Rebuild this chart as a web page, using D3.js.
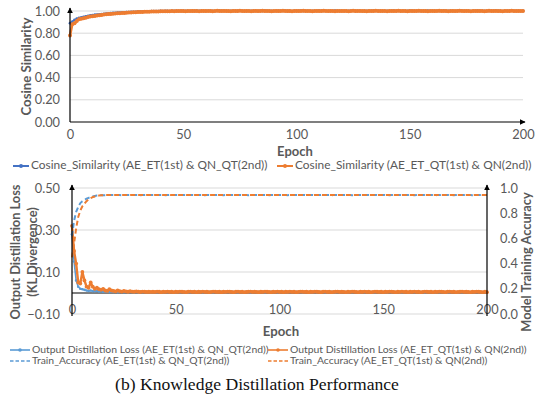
<!DOCTYPE html>
<html><head><meta charset="utf-8">
<script src="https://cdn.jsdelivr.net/npm/d3@7"></script>
<style>
body{margin:0;background:#fff;}
svg{display:block;}
</style></head>
<body>
<svg id="c" width="537" height="415"></svg>
<script>
// ---------- DATA ----------
const epochTicks = [0, 50, 100, 150, 200];
const cosTicks = [0, 0.2, 0.4, 0.6, 0.8, 1.0];
const lossTicks = [-0.1, 0.1, 0.3, 0.5];
const accTicks = [0, 0.2, 0.4, 0.6, 0.8, 1.0];

const cosBlue = [
0.890,0.905,0.920,0.930,0.937,0.942,0.947,0.952,0.956,0.960,
0.963,0.966,0.968,0.970,0.972,0.974,0.976,0.978,0.980,0.982,
0.983,0.985,0.986,0.987,0.988,0.989,0.990,0.991,0.992,0.993,
0.994,0.995,0.995,0.996,0.997,0.997,0.998,0.999,0.998,0.999,
1.000,0.999,1.000,1.001,0.999,1.000,1.002,1.000,0.999,1.001,
1.000,1.002,1.001,0.999,1.000,1.001,1.003,1.000,1.001,0.999,
1.000,1.002,1.001,1.000,0.999,1.001,1.003,1.000,1.002,1.001,
0.999,1.000,1.002,1.001,1.000,1.003,1.001,0.999,1.000,1.002,
1.001,1.000,1.002,0.999,1.001,1.000,1.003,1.001,1.000,1.002,
0.999,1.001,1.000,1.002,1.001,1.003,1.000,1.001,0.999,1.002,
1.000,1.001,1.003,1.000,1.002,1.001,0.999,1.000,1.002,1.001,
1.003,1.000,1.001,1.002,0.999,1.000,1.001,1.003,1.002,1.000,
1.001,0.999,1.002,1.000,1.001,1.003,1.000,1.002,1.001,0.999,
1.000,1.002,1.001,1.000,1.003,1.001,1.000,1.002,0.999,1.001,
1.000,1.002,1.001,1.003,1.000,1.001,0.999,1.002,1.000,1.001,
1.003,1.000,1.002,1.001,0.999,1.000,1.002,1.001,1.003,1.000,
1.001,1.000,1.002,0.999,1.001,1.003,1.000,1.002,1.001,1.000,
0.999,1.002,1.001,1.003,1.000,1.001,1.002,0.999,1.000,1.001,
1.003,1.000,1.002,1.001,0.999,1.000,1.002,1.001,1.003,1.000,
1.001,0.999,1.002,1.000,1.001,1.003,1.000,1.002,1.001,0.999,
1.000];

const cosOrange = [
0.780,0.880,0.890,0.910,0.925,0.930,0.935,0.940,0.945,0.950,
0.953,0.956,0.960,0.962,0.965,0.968,0.970,0.972,0.974,0.976,
0.977,0.979,0.980,0.982,0.983,0.984,0.986,0.987,0.988,0.989,
0.990,0.991,0.992,0.993,0.993,0.994,0.995,0.995,0.996,0.996,
0.997,0.997,0.998,0.997,0.998,0.999,0.998,0.999,1.000,0.999,
1.000,0.998,1.000,0.999,1.001,0.999,1.000,0.998,1.000,1.001,
0.999,1.000,1.001,0.998,1.000,1.002,0.999,1.000,1.001,0.999,
1.000,0.998,1.001,1.000,0.999,1.002,1.000,0.999,1.001,1.000,
0.998,1.000,1.001,0.999,1.000,1.002,0.999,1.001,1.000,0.998,
1.000,1.001,0.999,1.000,1.002,1.000,0.999,1.001,0.998,1.000,
1.001,0.999,1.000,1.002,0.999,1.000,1.001,0.998,1.000,1.001,
0.999,1.000,1.002,1.000,0.999,1.001,1.000,0.998,1.001,1.000,
0.999,1.001,1.000,0.998,1.000,1.002,0.999,1.000,1.001,0.999,
1.000,0.998,1.001,1.000,0.999,1.002,1.000,0.999,1.001,1.000,
0.998,1.000,1.001,0.999,1.000,1.002,0.999,1.001,1.000,0.998,
1.000,1.001,0.999,1.000,1.002,1.000,0.999,1.001,0.998,1.000,
1.001,0.999,1.000,1.002,0.999,1.000,1.001,0.998,1.000,1.001,
0.999,1.000,1.002,1.000,0.999,1.001,1.000,0.998,1.001,1.000,
0.999,1.001,1.000,0.998,1.000,1.002,0.999,1.000,1.001,0.999,
1.000,0.998,1.001,1.000,0.999,1.002,1.000,0.999,1.001,1.000,
1.001];

const lossBlue = [
0.280,0.150,0.060,0.030,0.020,0.018,0.015,0.012,0.010,0.012,
0.009,0.008,0.010,0.007,0.008,0.006,0.007,0.006,0.005,0.006,
0.005,0.006,0.004,0.005,0.006,0.004,0.005,0.004,0.006,0.005,
0.004,0.005,0.003,0.005,0.004,0.006,0.004,0.005,0.003,0.004,
0.005,0.004,0.006,0.004,0.003,0.005,0.004,0.005,0.006,0.004,
0.003,0.005,0.004,0.006,0.004,0.005,0.003,0.004,0.005,0.004,
0.006,0.004,0.005,0.003,0.004,0.005,0.006,0.004,0.003,0.005,
0.004,0.005,0.006,0.004,0.003,0.005,0.004,0.006,0.005,0.004,
0.003,0.005,0.004,0.005,0.006,0.004,0.003,0.004,0.005,0.004,
0.006,0.005,0.004,0.003,0.005,0.004,0.006,0.004,0.005,0.003,
0.004,0.005,0.006,0.004,0.003,0.005,0.004,0.005,0.006,0.004,
0.005,0.003,0.004,0.006,0.005,0.004,0.003,0.005,0.004,0.006,
0.004,0.005,0.003,0.004,0.005,0.006,0.004,0.003,0.005,0.004,
0.005,0.006,0.004,0.003,0.005,0.004,0.006,0.005,0.004,0.003,
0.005,0.004,0.005,0.006,0.004,0.003,0.004,0.005,0.004,0.006,
0.005,0.004,0.003,0.005,0.004,0.006,0.004,0.005,0.003,0.004,
0.005,0.006,0.004,0.003,0.005,0.004,0.005,0.006,0.004,0.005,
0.003,0.004,0.006,0.005,0.004,0.003,0.005,0.004,0.006,0.004,
0.005,0.003,0.004,0.005,0.006,0.004,0.003,0.005,0.004,0.005,
0.006,0.004,0.003,0.005,0.004,0.006,0.005,0.004,0.003,0.005,
0.004];

const lossOrange = [
0.320,0.200,0.140,0.050,0.045,0.100,0.060,0.030,0.025,0.050,
0.030,0.020,0.025,0.018,0.015,0.020,0.012,0.010,0.018,0.012,
0.010,0.008,0.012,0.009,0.007,0.010,0.008,0.006,0.009,0.007,
0.006,0.008,0.006,0.005,0.007,0.006,0.005,0.006,0.005,0.006,
0.005,0.007,0.006,0.004,0.006,0.005,0.007,0.005,0.006,0.004,
0.006,0.005,0.007,0.006,0.005,0.004,0.006,0.007,0.005,0.006,
0.004,0.006,0.005,0.007,0.005,0.006,0.004,0.005,0.007,0.006,
0.005,0.006,0.004,0.006,0.005,0.007,0.006,0.005,0.004,0.006,
0.007,0.005,0.006,0.004,0.005,0.006,0.007,0.005,0.006,0.005,
0.004,0.006,0.005,0.007,0.006,0.005,0.004,0.006,0.005,0.007,
0.005,0.006,0.004,0.006,0.005,0.007,0.005,0.006,0.004,0.005,
0.007,0.006,0.005,0.006,0.004,0.006,0.005,0.007,0.006,0.005,
0.004,0.006,0.007,0.005,0.006,0.004,0.005,0.006,0.007,0.005,
0.006,0.005,0.004,0.006,0.005,0.007,0.006,0.005,0.004,0.006,
0.005,0.007,0.005,0.006,0.004,0.005,0.007,0.006,0.005,0.006,
0.004,0.006,0.005,0.007,0.006,0.005,0.004,0.006,0.005,0.007,
0.005,0.006,0.004,0.006,0.005,0.007,0.005,0.006,0.004,0.005,
0.007,0.006,0.005,0.006,0.004,0.006,0.005,0.007,0.006,0.005,
0.004,0.006,0.007,0.005,0.006,0.004,0.005,0.006,0.007,0.005,
0.006,0.005,0.004,0.006,0.005,0.007,0.006,0.005,0.004,0.006,
0.004];

const accBlue = [
0.620,0.740,0.810,0.850,0.880,0.895,0.905,0.915,0.922,0.928,
0.933,0.937,0.940,0.941,0.942,0.943,0.943,0.944,0.944,0.944,
0.944,0.945,0.944,0.944,0.943,0.944,0.945,0.944,0.944,0.944,
0.945,0.944,0.944,0.943,0.944,0.944,0.945,0.944,0.944,0.944,
0.944,0.945,0.944,0.944,0.944,0.943,0.944,0.945,0.944,0.944,
0.944,0.944,0.945,0.944,0.944,0.943,0.944,0.944,0.945,0.944,
0.944,0.945,0.944,0.944,0.943,0.944,0.945,0.944,0.944,0.944,
0.945,0.944,0.944,0.943,0.944,0.944,0.945,0.944,0.944,0.944,
0.944,0.945,0.944,0.944,0.944,0.943,0.944,0.945,0.944,0.944,
0.944,0.944,0.945,0.944,0.944,0.943,0.944,0.944,0.945,0.944,
0.944,0.945,0.944,0.944,0.943,0.944,0.945,0.944,0.944,0.944,
0.945,0.944,0.944,0.943,0.944,0.944,0.945,0.944,0.944,0.944,
0.944,0.945,0.944,0.944,0.944,0.943,0.944,0.945,0.944,0.944,
0.944,0.944,0.945,0.944,0.944,0.943,0.944,0.944,0.945,0.944,
0.944,0.945,0.944,0.944,0.943,0.944,0.945,0.944,0.944,0.944,
0.945,0.944,0.944,0.943,0.944,0.944,0.945,0.944,0.944,0.944,
0.944,0.945,0.944,0.944,0.944,0.943,0.944,0.945,0.944,0.944,
0.944,0.944,0.945,0.944,0.944,0.943,0.944,0.944,0.945,0.944,
0.944,0.945,0.944,0.944,0.943,0.944,0.945,0.944,0.944,0.944,
0.945,0.944,0.944,0.943,0.944,0.944,0.945,0.944,0.944,0.944,
0.944];

const accOrange = [
0.450,0.560,0.680,0.770,0.820,0.855,0.875,0.895,0.910,0.920,
0.928,0.933,0.937,0.940,0.942,0.943,0.944,0.944,0.944,0.945,
0.944,0.944,0.945,0.944,0.944,0.944,0.945,0.944,0.944,0.945,
0.944,0.944,0.944,0.945,0.944,0.944,0.945,0.944,0.944,0.944,
0.945,0.944,0.944,0.945,0.944,0.944,0.944,0.945,0.944,0.944,
0.945,0.944,0.944,0.944,0.945,0.944,0.944,0.945,0.944,0.944,
0.944,0.945,0.944,0.944,0.945,0.944,0.944,0.944,0.945,0.944,
0.944,0.945,0.944,0.944,0.944,0.945,0.944,0.944,0.945,0.944,
0.944,0.944,0.945,0.944,0.944,0.945,0.944,0.944,0.944,0.945,
0.944,0.944,0.945,0.944,0.944,0.944,0.945,0.944,0.944,0.945,
0.944,0.944,0.944,0.945,0.944,0.944,0.945,0.944,0.944,0.944,
0.945,0.944,0.944,0.945,0.944,0.944,0.944,0.945,0.944,0.944,
0.945,0.944,0.944,0.944,0.945,0.944,0.944,0.945,0.944,0.944,
0.944,0.945,0.944,0.944,0.945,0.944,0.944,0.944,0.945,0.944,
0.944,0.945,0.944,0.944,0.944,0.945,0.944,0.944,0.945,0.944,
0.944,0.944,0.945,0.944,0.944,0.945,0.944,0.944,0.944,0.945,
0.944,0.944,0.945,0.944,0.944,0.944,0.945,0.944,0.944,0.945,
0.944,0.944,0.944,0.945,0.944,0.944,0.945,0.944,0.944,0.944,
0.945,0.944,0.944,0.945,0.944,0.944,0.944,0.945,0.944,0.944,
0.945,0.944,0.944,0.944,0.945,0.944,0.944,0.945,0.944,0.944,
0.944];

const legendTop = ["Cosine_Similarity (AE_ET(1st) & QN_QT(2nd))", "Cosine_Similarity (AE_ET_QT(1st) & QN(2nd))"];
const legendBottom = ["Output Distillation Loss (AE_ET(1st) & QN_QT(2nd))", "Output Distillation Loss (AE_ET_QT(1st) & QN(2nd))",
                      "Train_Accuracy (AE_ET(1st) & QN_QT(2nd))", "Train_Accuracy (AE_ET_QT(1st) & QN(2nd))"];
const caption = "(b) Knowledge Distillation Performance";

// ---------- DRAW ----------
const BLUE = "#4472C4", LBLUE = "#5B9BD5", ORANGE = "#ED7D31", GRID = "#D9D9D9", TXT = "#595959";
const FONT = "Lato, 'Open Sans', sans-serif";
const svg = d3.select("#c").style("font-family", FONT);

const defs = svg.append("defs");
defs.append("marker").attr("id", "arr").attr("viewBox", "0 0 10 10").attr("refX", 9).attr("refY", 5)
  .attr("markerWidth", 6).attr("markerHeight", 6).attr("markerUnits", "userSpaceOnUse").attr("orient", "auto")
  .append("path").attr("d", "M0,0L10,5L0,10Z").attr("fill", "#000");

function styleAxis(g, size) {
  g.select(".domain").remove();
  g.selectAll("text").attr("fill", TXT).style("font-size", size + "px").style("font-family", FONT);
}

// ===== TOP CHART =====
const xT = d3.scaleLinear().domain([0, 200]).range([70, 523]);
const yT = d3.scaleLinear().domain([0, 1]).range([122, 11]);

svg.append("g").selectAll("line").data(cosTicks.filter(d => d > 0)).join("line")
  .attr("x1", xT(0)).attr("x2", xT(200)).attr("y1", d => yT(d)).attr("y2", d => yT(d))
  .attr("stroke", GRID).attr("stroke-width", 1);

svg.append("g").attr("transform", `translate(${xT(0)},0)`)
  .call(d3.axisLeft(yT).tickValues(cosTicks).tickFormat(d3.format(".2f")).tickSize(0).tickPadding(10))
  .call(g => styleAxis(g, 12.8));
svg.append("g").attr("transform", `translate(0,${yT(0)})`)
  .call(d3.axisBottom(xT).tickValues(epochTicks).tickSize(0).tickPadding(8))
  .call(g => styleAxis(g, 12.8));

function series(g, xs, ys, data, color, opts) {
  const line = d3.line().x((d, i) => xs(i)).y(d => ys(d));
  g.append("path").datum(data).attr("d", line).attr("fill", "none").attr("stroke", color)
    .attr("stroke-width", opts.w).attr("stroke-dasharray", opts.dash || null).attr("stroke-linejoin", "round");
  if (opts.r) {
    g.append("g").selectAll("circle").data(data).join("circle")
      .attr("cx", (d, i) => xs(i)).attr("cy", d => ys(d)).attr("r", opts.r).attr("fill", color);
  }
}
const topG = svg.append("g");
series(topG, xT, yT, cosBlue, BLUE, {w: 1.6, r: 1.4});
series(topG, xT, yT, cosOrange, ORANGE, {w: 2.6, r: 2.0});

// axes lines with arrows
svg.append("line").attr("x1", xT(0)).attr("x2", xT(0)).attr("y1", yT(0)).attr("y2", 8)
  .attr("stroke", "#000").attr("stroke-width", 1.2).attr("marker-end", "url(#arr)");
svg.append("line").attr("x1", xT(0)).attr("x2", xT(200) + 2).attr("y1", yT(0)).attr("y2", yT(0))
  .attr("stroke", "#000").attr("stroke-width", 1.2).attr("marker-end", "url(#arr)");

svg.append("text").attr("transform", `translate(28,${(yT(0) + yT(1)) / 2}) rotate(-90)`)
  .attr("text-anchor", "middle").attr("dominant-baseline", "middle")
  .attr("fill", TXT).style("font-size", "13.2px").style("font-weight", "bold").text("Cosine Similarity");
svg.append("text").attr("x", 295).attr("y", 153).attr("text-anchor", "middle")
  .attr("dominant-baseline", "middle").attr("fill", TXT).style("font-size", "13px").style("font-weight", "bold").text("Epoch");

// top legend
const tl = [{x: 13, c: BLUE}, {x: 277, c: ORANGE}];
tl.forEach((p, i) => {
  const g = svg.append("g").attr("transform", `translate(${p.x},166)`);
  g.append("line").attr("x1", 0).attr("x2", 16).attr("stroke", p.c).attr("stroke-width", 2);
  g.append("circle").attr("cx", 8).attr("r", 2).attr("fill", p.c);
  g.append("text").attr("x", 18).attr("dominant-baseline", "middle").attr("fill", TXT)
    .style("font-size", "11.9px").text(legendTop[i]);
});

// ===== BOTTOM CHART =====
const xB = d3.scaleLinear().domain([0, 200]).range([72, 487]);
const yL = d3.scaleLinear().domain([-0.1, 0.5]).range([314, 188]);
const yR = d3.scaleLinear().domain([0, 1]).range([314, 188]);

svg.append("g").selectAll("line").data(lossTicks).join("line")
  .attr("x1", xB(0)).attr("x2", xB(200)).attr("y1", d => yL(d)).attr("y2", d => yL(d))
  .attr("stroke", GRID).attr("stroke-width", 1);

svg.append("g").attr("transform", `translate(${xB(0)},0)`)
  .call(d3.axisLeft(yL).tickValues(lossTicks).tickFormat(d3.format(".2f")).tickSize(0).tickPadding(12))
  .call(g => styleAxis(g, 12.8));
svg.append("g").attr("transform", `translate(${xB(200)},0)`)
  .call(d3.axisRight(yR).tickValues(accTicks).tickFormat(d3.format(".1f")).tickSize(0).tickPadding(13))
  .call(g => styleAxis(g, 12.8));
svg.append("g").attr("transform", `translate(0,305)`)
  .call(d3.axisBottom(xB).tickValues(epochTicks).tickSize(0).tickPadding(0))
  .call(g => styleAxis(g, 12.8));

// axis lines
svg.append("line").attr("x1", xB(0)).attr("x2", xB(200)).attr("y1", yL(0)).attr("y2", yL(0))
  .attr("stroke", "#000").attr("stroke-width", 1.2);

const botG = svg.append("g");
series(botG, xB, yL, lossBlue, LBLUE, {w: 1.6, r: 1.3});
series(botG, xB, yL, lossOrange, ORANGE, {w: 2.4, r: 1.9});
series(botG, xB, yR, accBlue, LBLUE, {w: 2, dash: "5,3"});
series(botG, xB, yR, accOrange, ORANGE, {w: 2, dash: "5,3"});

svg.append("line").attr("x1", xB(0)).attr("x2", xB(0)).attr("y1", 316).attr("y2", 185)
  .attr("stroke", "#000").attr("stroke-width", 1.2).attr("marker-end", "url(#arr)");
svg.append("line").attr("x1", xB(200)).attr("x2", xB(200)).attr("y1", 316).attr("y2", 185)
  .attr("stroke", "#000").attr("stroke-width", 1.2).attr("marker-end", "url(#arr)");

const lt = svg.append("text").attr("transform", `translate(23,252) rotate(-90)`)
  .attr("text-anchor", "middle").attr("fill", TXT).style("font-size", "12.8px").style("font-weight", "bold");
lt.append("tspan").attr("x", 0).attr("y", -3).text("Output Distillation Loss");
lt.append("tspan").attr("x", 0).attr("y", 14).text("(KL Divergence)");

svg.append("text").attr("transform", `translate(528,262) rotate(-90)`)
  .attr("text-anchor", "middle").attr("dominant-baseline", "middle")
  .attr("fill", TXT).style("font-size", "12.8px").style("font-weight", "bold").text("Model Training Accuracy");

svg.append("text").attr("x", 281).attr("y", 333).attr("text-anchor", "middle")
  .attr("dominant-baseline", "middle").attr("fill", TXT).style("font-size", "13.2px").style("font-weight", "bold").text("Epoch");

// bottom legend
const bl = [{x: 10, y: 350, c: LBLUE, m: true}, {x: 268, y: 350, c: ORANGE, m: true},
            {x: 10, y: 361, c: LBLUE, m: false}, {x: 268, y: 361, c: ORANGE, m: false}];
bl.forEach((p, i) => {
  const g = svg.append("g").attr("transform", `translate(${p.x},${p.y})`);
  g.append("line").attr("x1", 0).attr("x2", 20).attr("stroke", p.c).attr("stroke-width", p.m ? 1.6 : 1.5)
    .attr("stroke-dasharray", p.m ? null : "3.5,2");
  if (p.m) g.append("circle").attr("cx", 10).attr("r", 1.8).attr("fill", p.c);
  g.append("text").attr("x", 22).attr("dominant-baseline", "middle").attr("fill", TXT)
    .style("font-size", "10.4px").text(legendBottom[i]);
});

svg.append("text").attr("x", 257).attr("y", 386).attr("text-anchor", "middle").attr("dominant-baseline", "middle")
  .attr("fill", "#111").style("font-family", "'Liberation Serif', 'Times New Roman', serif").style("font-size", "17.6px")
  .text(caption);
</script>
</body></html>
